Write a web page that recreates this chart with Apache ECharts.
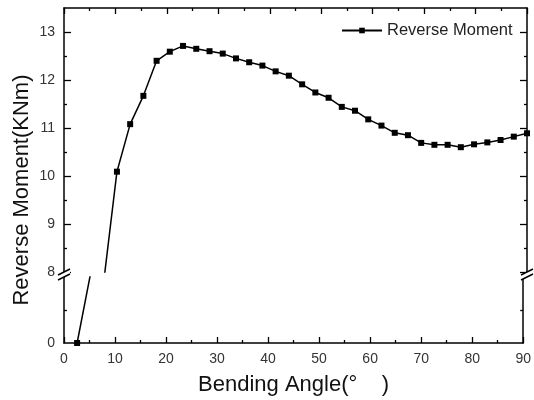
<!DOCTYPE html>
<html>
<head>
<meta charset="utf-8">
<script src="https://cdn.jsdelivr.net/npm/echarts@6/dist/echarts.min.js"></script>
<style>html,body{margin:0;padding:0;background:#fff}#c{width:534px;height:400px}</style>
</head>
<body>
<div id="c"></div>
<script>
// Bending angle (degrees) of each measurement
var angles = [2.57, 5.14, 7.71, 10.29, 12.86, 15.43, 18.00, 20.57, 23.14, 25.71, 28.29, 30.86,
  33.43, 36.00, 38.57, 41.14, 43.71, 46.29, 48.86, 51.43, 54.00, 56.57, 59.14, 61.71,
  64.29, 66.86, 69.43, 72.00, 74.57, 77.14, 79.71, 82.29, 84.86, 87.43, 90.00];
// Reverse moment (KNm)
var moments = [0, 4.1, 7.79, 10.09, 11.08, 11.67, 12.40, 12.59, 12.71, 12.65, 12.60, 12.55,
  12.45, 12.37, 12.30, 12.18, 12.09, 11.91, 11.74, 11.63, 11.44, 11.36, 11.18, 11.05,
  10.90, 10.85, 10.69, 10.65, 10.65, 10.60, 10.66, 10.70, 10.75, 10.82, 10.89];
var xTicks = [0, 10, 20, 30, 40, 50, 60, 70, 80, 90];
var yUpperMajor = [8, 9, 10, 11, 12, 13];
var yUpperMinor = [8.5, 9.5, 10.5, 11.5, 12.5];
var yLowerLabels = [0];
var yLowerTicks = [2];
var seriesName = 'Reverse Moment';

var pts = angles.map(function (a, i) { return [a, moments[i]]; });
var FONT = 'Liberation Sans, Arial, sans-serif';
var black = '#000';
var axLine = { show: true, lineStyle: { color: black, width: 1.5 } };

function xAx(grid, pos, labels) {
  return {
    type: 'value', gridIndex: grid, position: pos, min: 0, max: 90, interval: 10,
    axisLine: axLine, splitLine: { show: false },
    axisTick: { show: true, inside: true, length: 6, lineStyle: { color: black, width: 1.3 } },
    minorTick: { show: true, splitNumber: 2, length: 3, lineStyle: { color: black, width: 1.3 } },
    axisLabel: { show: labels, margin: 9, fontSize: 14, color: '#333', fontFamily: FONT },
    name: labels ? 'Bending Angle(°    )' : '', nameLocation: 'middle', nameGap: 31,
    nameTextStyle: { fontSize: 22, color: '#111', fontFamily: FONT }
  };
}
function yAx(grid, pos, min, max, interval, ticks, tickLen, labels, line) {
  return {
    type: 'value', gridIndex: grid, position: pos, min: min, max: max, interval: interval,
    axisLine: line ? axLine : { show: false }, splitLine: { show: false },
    axisTick: { show: true, inside: true, length: tickLen, customValues: ticks, lineStyle: { color: black, width: 1.3 } },
    axisLabel: labels ? { show: true, customValues: labels, margin: 9, fontSize: 14, color: '#333', fontFamily: FONT } : { show: false }
  };
}

var chart = echarts.init(document.getElementById('c'));
chart.setOption({
  animation: false,
  backgroundColor: '#fff',
  grid: [
    { left: 64, right: 7, top: 8, height: 264 },
    { left: 64, right: 7, top: 277, height: 66 }
  ],
  legend: {
    left: 336, top: 17, itemWidth: 40, itemHeight: 7, itemGap: 5,
    data: [seriesName],
    textStyle: { fontSize: 16.5, color: '#222', fontFamily: FONT }
  },
  xAxis: [xAx(0, 'top', false), xAx(1, 'bottom', true)],
  yAxis: [
    yAx(0, 'left', 8, 13.5, 0.5, yUpperMajor, 7, yUpperMajor, true),
    yAx(0, 'left', 8, 13.5, 0.5, yUpperMinor, 3, null, false),
    yAx(0, 'right', 8, 13.5, 0.5, yUpperMajor, 7, null, true),
    yAx(0, 'right', 8, 13.5, 0.5, yUpperMinor, 3, null, false),
    yAx(1, 'left', 0, 4, 2, yLowerTicks, 3, yLowerLabels, true),
    yAx(1, 'right', 0, 4, 2, yLowerTicks, 3, null, true)
  ],
  series: [
    {
      name: seriesName, type: 'line', xAxisIndex: 0, yAxisIndex: 0, data: pts, clip: true,
      symbol: 'rect', symbolSize: 6, itemStyle: { color: black },
      lineStyle: { color: black, width: 1.5 }
    },
    {
      name: seriesName, type: 'line', xAxisIndex: 1, yAxisIndex: 4, data: pts, clip: true,
      symbol: 'rect', symbolSize: 6, itemStyle: { color: black },
      lineStyle: { color: black, width: 1.5 }
    }
  ]
});

// axis-break marks and y title
var up = chart.convertToPixel({ xAxisIndex: 0, yAxisIndex: 0 }, [0, 8]);
var upR = chart.convertToPixel({ xAxisIndex: 0, yAxisIndex: 0 }, [90, 8]);
var lo = chart.convertToPixel({ xAxisIndex: 1, yAxisIndex: 4 }, [0, 4]);
var y1 = up[1], y2 = lo[1];
var g = [];
[up[0], upR[0]].forEach(function (x) {
  g.push({ type: 'polygon', z: 100, shape: { points: [[x - 6, y1 + 3], [x + 6, y1 - 3], [x + 6, y2 - 3], [x - 6, y2 + 3]] }, style: { fill: '#fff' } });
  g.push({ type: 'line', z: 101, shape: { x1: x - 6, y1: y1 + 3, x2: x + 6, y2: y1 - 3 }, style: { stroke: black, lineWidth: 1.5 } });
  g.push({ type: 'line', z: 101, shape: { x1: x - 6, y1: y2 + 3, x2: x + 6, y2: y2 - 3 }, style: { stroke: black, lineWidth: 1.5 } });
});
g.push({
  type: 'text', x: 22, y: 190, rotation: Math.PI / 2,
  style: { text: 'Reverse Moment(KNm)', fontSize: 22, fill: '#111', fontFamily: FONT, align: 'center', verticalAlign: 'middle' }
});
chart.setOption({ graphic: g });
</script>
</body>
</html>
